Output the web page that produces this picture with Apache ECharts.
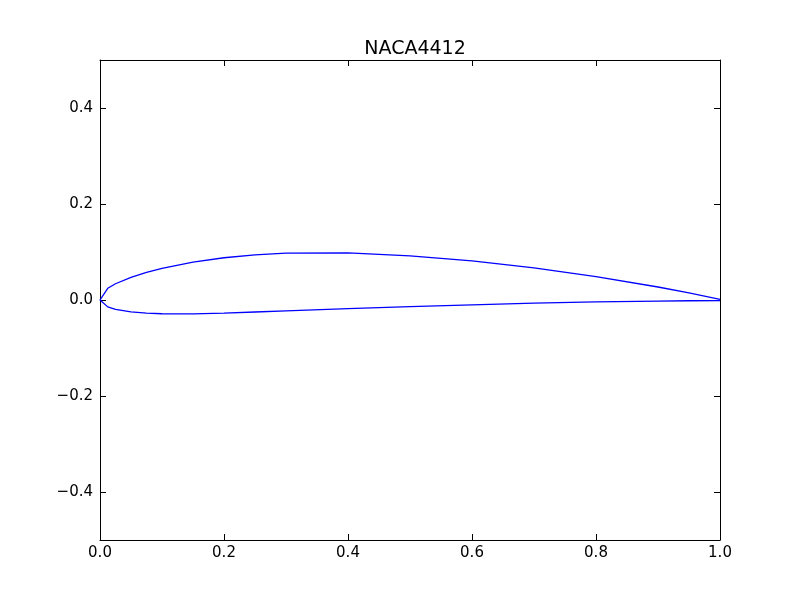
<!DOCTYPE html>
<html>
<head>
<meta charset="utf-8">
<script src="https://cdn.jsdelivr.net/npm/echarts@6/dist/echarts.min.js"></script>
<style>html,body{margin:0;padding:0;background:#fff}#c{width:800px;height:600px}</style>
</head>
<body>
<div id="c"></div>
<script>
// NACA4412 coordinates: upper surface (trailing edge -> leading edge), then lower surface
const upperX = [1.0000,0.9500,0.9000,0.8000,0.7000,0.6000,0.5000,0.4000,0.3000,0.2500,0.2000,0.1500,0.1000,0.0750,0.0500,0.0250,0.0125,0.0000];
const upperY = [0.0013,0.0147,0.0271,0.0489,0.0669,0.0814,0.0919,0.0980,0.0976,0.0941,0.0880,0.0789,0.0659,0.0576,0.0473,0.0339,0.0244,0.0000];
const lowerX = [0.0125,0.0250,0.0500,0.0750,0.1000,0.1500,0.2000,0.2500,0.3000,0.4000,0.5000,0.6000,0.7000,0.8000,0.9000,0.9500,1.0000];
const lowerY = [-0.0143,-0.0195,-0.0249,-0.0274,-0.0286,-0.0288,-0.0274,-0.0250,-0.0226,-0.0180,-0.0140,-0.0100,-0.0065,-0.0039,-0.0022,-0.0016,-0.0013];
const xTicks = [0.0,0.2,0.4,0.6,0.8,1.0];
const yTicks = [-0.4,-0.2,0.0,0.2,0.4];

const pts = [];
upperX.forEach((x,i)=>pts.push([x,upperY[i]]));
lowerX.forEach((x,i)=>pts.push([x,lowerY[i]]));

const fmt = v => v.toFixed(1).replace('-', '\u2212');
const font = {fontFamily:'DejaVu Sans', fontSize:15, color:'#000'};
const line = {show:true, onZero:false, lineStyle:{color:'#000', width:1}};
const tick = {show:true, inside:true, length:6, lineStyle:{color:'#000', width:1}};

const chart = echarts.init(document.getElementById('c'), null, {renderer:'canvas'});
chart.setOption({
  animation:false,
  backgroundColor:'#fff',
  title:{text:'NACA4412', left:410, top:35, textAlign:'center',
    textStyle:{fontFamily:'DejaVu Sans', fontSize:19, fontWeight:'normal', color:'#000'}},
  grid:{left:100, right:80, top:60, bottom:60, containLabel:false},
  xAxis:[
    {type:'value', min:0, max:1, position:'bottom', axisLine:line,
     axisTick:Object.assign({customValues:xTicks}, tick),
     axisLabel:Object.assign({customValues:xTicks, formatter:fmt, margin:6}, font),
     splitLine:{show:false}},
    {type:'value', min:0, max:1, position:'top', axisLine:line,
     axisTick:Object.assign({customValues:xTicks}, tick),
     axisLabel:{show:false}, splitLine:{show:false}}
  ],
  yAxis:[
    {type:'value', min:-0.5, max:0.5, position:'left', axisLine:line,
     axisTick:Object.assign({customValues:yTicks}, tick),
     axisLabel:Object.assign({customValues:yTicks, formatter:fmt, margin:7}, font),
     splitLine:{show:false}},
    {type:'value', min:-0.5, max:0.5, position:'right', axisLine:line,
     axisTick:Object.assign({customValues:yTicks}, tick),
     axisLabel:{show:false}, splitLine:{show:false}}
  ],
  series:[{
    type:'line', data:pts, xAxisIndex:0, yAxisIndex:0,
    showSymbol:false, symbol:'none', smooth:false,
    lineStyle:{color:'#0000ff', width:1.3}
  }]
});
</script>
</body>
</html>
